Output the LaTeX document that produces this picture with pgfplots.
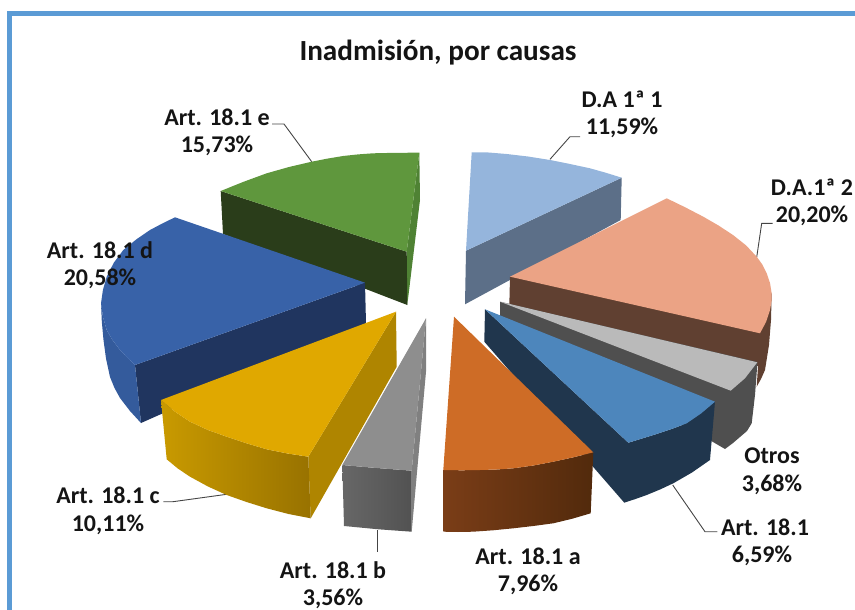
\documentclass[border=0pt]{standalone}
\usepackage{fontspec}
\setmainfont{Carlito}
\usepackage{pgfplots}
\pgfplotsset{compat=1.18}

\definecolor{frame}{HTML}{5B9BD5}
\definecolor{txt}{HTML}{141414}
\definecolor{lead}{HTML}{444444}
% slice colours: top, side, wall left, wall right
\definecolor{grT}{HTML}{5F973D}\definecolor{grD}{HTML}{2A3D1A}\definecolor{grS}{HTML}{4F8234}
\definecolor{blT}{HTML}{3862A8}\definecolor{blD}{HTML}{20355F}\definecolor{blW}{HTML}{345B9C}
\definecolor{yeT}{HTML}{E0A800}\definecolor{yeD}{HTML}{AF8500}\definecolor{yeL}{HTML}{C99A00}\definecolor{yeR}{HTML}{987200}
\definecolor{gyT}{HTML}{8E8E8E}\definecolor{gyS}{HTML}{808080}\definecolor{gyL}{HTML}{676767}\definecolor{gyR}{HTML}{525252}
\definecolor{orT}{HTML}{CE6C26}\definecolor{orL}{HTML}{7A3D17}\definecolor{orR}{HTML}{522A0C}
\definecolor{stT}{HTML}{4D86BC}\definecolor{stD}{HTML}{20364D}
\definecolor{otT}{HTML}{BABABA}\definecolor{otD}{HTML}{4F4F4F}
\definecolor{saT}{HTML}{EBA385}\definecolor{saD}{HTML}{604031}
\definecolor{lbT}{HTML}{95B5DC}\definecolor{lbD}{HTML}{5C6F88}

% pie drawn in picture pixels (the 3-D view has no real axes)
\newcommand{\lbl}[3]{\node[font=\bfseries\fontsize{24}{28}\selectfont,text=txt,inner sep=0pt] at (axis cs:#1,#2) {#3};}

\begin{document}
\begin{tikzpicture}
\begin{axis}[
  width=855pt, height=610pt,
  scale only axis,
  xmin=0, xmax=855,
  ymin=0, ymax=610,
  y dir=reverse,
  axis line style={draw=none},
  ticks=none,
  clip=true,
]
% frame
\addplot[frame, line width=4.5pt] coordinates {(9.5,612)(9.5,13.5)(857,13.5)};

% leader lines under the slices
\addplot[lead, line width=0.9pt] coordinates {(272,124)(284,124)(311.7,161.7)};
\addplot[lead, line width=0.9pt] coordinates {(550,159.3)(570,136.7)(580,136.7)};
\addplot[lead, line width=0.9pt] coordinates {(756.7,257.3)(761.7,223.3)(772.7,223.3)};
\addplot[lead, line width=0.9pt] coordinates {(163.3,501.7)(173,501.7)(226.7,494.3)};
\addplot[lead, line width=0.9pt] coordinates {(377.7,530)(377.7,552)};
\addplot[lead, line width=0.9pt] coordinates {(672.7,485)(705,531.7)(717.3,531.7)};

% Art. 18.1 e
\addplot[fill=grS,draw=none] coordinates {(419.3,152.7)(420,200)(407.3,305)(406.7,251.7)} -- cycle;
\addplot[fill=grD,draw=none] coordinates {(220.7,191)(406.7,251.7)(407.3,305)(223,234)} -- cycle;
\addplot[fill=grT,draw=none] coordinates {(406.7,251.7)(419.3,152.7)(396,152.8)(373,153.3)(358,154.4)(343,156)(327.5,158.6)(311.7,161.7)(289,167)(266.7,173.3)(243.5,181.8)(220.7,191)} -- cycle;

% Art. 18.1 d
\addplot[fill=blD,draw=none] coordinates {(135,365)(365,282.7)(366,323.3)(141,423)} -- cycle;
\addplot[fill=blW,draw=none] coordinates {(101,303.3)(103,317)(106.7,330)(112.8,340.5)(120,350)(127.3,357.7)(135,365)(141,423)(130,411)(120,398)(114.5,388)(110,377)(106,358.5)(103.5,340)(101.8,321.5)} -- cycle;
\addplot[fill=blT,draw=none] coordinates {(365,282.7)(175,217.3)(162.5,223.4)(150,230)(136.3,239.4)(123.3,250)(113.7,262.9)(106.7,276.7)(102.9,290)(101,303.3)(103,317)(106.7,330)(112.8,340.5)(120,350)(127.3,357.7)(135,365)} -- cycle;

% Art. 18.1 c
\addplot[fill=yeD,draw=none] coordinates {(396,311.7)(396.7,366.7)(310.7,518.3)(308.3,456.7)} -- cycle;
\addplot[left color=yeL,right color=yeR,draw=none] coordinates {(161,400)(175,411.7)(190,421.7)(208,430)(226.7,436.7)(246.5,443.3)(266.7,449.3)(287.5,453.5)(308.3,456.7)(310.7,518.3)(288.5,514)(266.7,508.3)(246.5,502)(226.7,495)(208,486.5)(190,476.7)(177.8,468.5)(166.7,459.3)} -- cycle;
\addplot[fill=yeT,draw=none] coordinates {(396,311.7)(161,400)(175,411.7)(190,421.7)(208,430)(226.7,436.7)(246.5,443.3)(266.7,449.3)(287.5,453.5)(308.3,456.7)} -- cycle;

% Art. 18.1 b
\addplot[fill=gyS,draw=none] coordinates {(426,318.3)(426,371.7)(411.7,531.7)(411.7,470.7)} -- cycle;
\addplot[left color=gyL,right color=gyR,draw=none] coordinates {(342.3,465)(373,467.7)(411.7,470.7)(411.7,531.7)(378.3,529.3)(344,526)} -- cycle;
\addplot[fill=gyT,draw=none] coordinates {(426,318.3)(342.3,465)(373,467.7)(411.7,470.7)} -- cycle;

% D.A 1a 1
\addplot[fill=lbD,draw=none] coordinates {(466,250.7)(621.7,177.7)(620.7,220)(465,304.3)} -- cycle;
\addplot[fill=lbT,draw=none] coordinates {(466,250.7)(471.7,152.3)(488.5,152.5)(506.7,154)(528,156.5)(550,160)(570,164)(590,168.3)(606,172.8)(621.7,177.7)} -- cycle;

% D.A.1a 2
\addplot[fill=saD,draw=none] coordinates {(510,276.7)(771.7,293.3)(771,320)(769,345)(765,370)(761,379)(756.7,386.7)(758,366)(509.3,306)} -- cycle;
\addplot[fill=saT,draw=none] coordinates {(510,276.7)(666.7,198.3)(685,207.2)(703.3,216.7)(718.5,225.5)(733,235)(746,245.3)(756.7,256.7)(762.3,264.5)(766.7,273.3)(770,283)(771.7,293.3)(771.5,301.7)(770,310)(766,322)(760,333.3)} -- cycle;

% Otros
\addplot[fill=otD,draw=none] coordinates {(500,301.7)(757.5,362)(755,395)(751.7,423.3)(747,431)(740,437)(733,443)(725,449)(500,318)} -- cycle;
\addplot[fill=otT,draw=none] coordinates {(500,301.7)(757.3,362.3)(745,378.3)(730.7,390.7)} -- cycle;

% Art. 18.1
\addplot[fill=stD,draw=none] coordinates {(485,309.3)(628.3,442.7)(642.5,438.4)(656.7,434)(671.7,429)(686.7,423.3)(701,413.5)(715,401.7)(710,460)(692,472.5)(673.3,483.3)(660,489.5)(646.7,495)(635.5,499)(624.3,502.7)(484.3,341.7)} -- cycle;
\addplot[fill=stT,draw=none] coordinates {(485,309.3)(715,401.7)(701,413.5)(686.7,423.3)(671.7,429)(656.7,434)(642.5,438.4)(628.3,442.7)} -- cycle;

% Art. 18.1 a
\addplot[left color=orL,right color=orR,draw=none] coordinates {(443.3,470)(461.5,470.3)(480,470)(496.5,469.5)(513.3,468.3)(533.3,465.5)(553.3,461.7)(573.5,457.3)(593.3,452.3)(590.7,513.3)(572,518.8)(553.3,523.3)(533.3,526)(513.3,528.3)(493,530.3)(473,531.7)(458,532)(443.3,531.7)} -- cycle;
\addplot[fill=orT,draw=none] coordinates {(454,316.7)(593.3,452.3)(573.5,457.3)(553.3,461.7)(533.3,465.5)(513.3,468.3)(496.5,469.5)(480,470)(461.5,470.3)(443.3,470)} -- cycle;

% texts
\node[font=\bfseries\fontsize{29.2}{33}\selectfont,text=txt,inner sep=0pt] at (axis cs:438,52.5) {Inadmisión, por causas};
\lbl{217}{117}{Art. 18.1 e}
\lbl{217}{146}{15,73\%}
\lbl{622}{99}{D.A 1ª 1}
\lbl{622}{128}{11,59\%}
\lbl{812}{187}{D.A.1ª 2}
\lbl{812}{216}{20,20\%}
\lbl{100}{250}{Art. 18.1 d}
\lbl{100}{279}{20,58\%}
\lbl{772}{456}{Otros}
\lbl{772}{485}{3,68\%}
\lbl{765}{527}{Art. 18.1}
\lbl{762}{556}{6,59\%}
\lbl{528}{556}{Art. 18.1 a}
\lbl{528}{585}{7,96\%}
\lbl{333}{570}{Art. 18.1 b}
\lbl{333}{599}{3,56\%}
\lbl{108}{495}{Art. 18.1 c}
\lbl{108}{525}{10,11\%}
\end{axis}
\end{tikzpicture}
\end{document}
